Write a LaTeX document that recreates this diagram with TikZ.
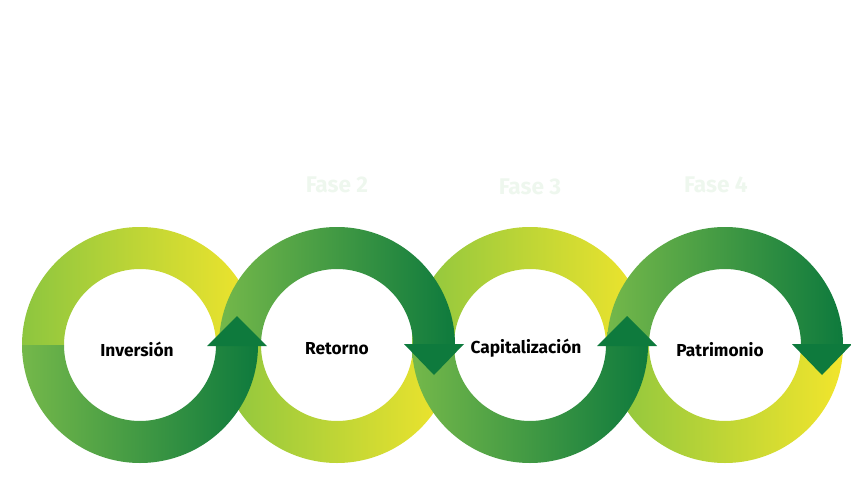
\documentclass[tikz,border=0pt]{standalone}
\usepackage{fontspec}
\setmainfont{Fira Sans}
\begin{document}
\begin{tikzpicture}[x=0.75pt,y=-0.75pt,
  lbl/.style={font=\fontsize{13}{15}\selectfont\bfseries, text=black},
  fase/.style={font=\fontsize{17}{20}\selectfont\bfseries, text=fasecol}]
\definecolor{fasecol}{HTML}{EEF7EE}
\definecolor{lg}{HTML}{8DC63F}
\definecolor{yl}{HTML}{F2E52C}
\definecolor{mg}{HTML}{74B84A}
\definecolor{dg}{HTML}{0E7A3D}
\useasboundingbox (0,0) rectangle (851,493);
\def\R{118}\def\r{76}
% light halves
\foreach \cx/\up in {140/1,337/0,530/1,725/0}{
  \ifnum\up=0
    \shade[left color=lg,right color=yl] (\cx-\R,345) arc[start angle=180,end angle=0,radius=\R] -- (\cx+\r,345) arc[start angle=0,end angle=180,radius=\r] -- cycle;
  \else
    \shade[left color=lg,right color=yl] (\cx-\R,345) arc[start angle=180,end angle=360,radius=\R] -- (\cx+\r,345) arc[start angle=360,end angle=180,radius=\r] -- cycle;
  \fi
}
% dark halves
\foreach \cx/\up in {140/1,337/0,530/1,725/0}{
  \ifnum\up=0
    \shade[left color=mg,right color=dg] (\cx-\R,345) arc[start angle=180,end angle=360,radius=\R] -- (\cx+\r,345) arc[start angle=360,end angle=180,radius=\r] -- cycle;
  \else
    \shade[left color=mg,right color=dg] (\cx-\R,345) arc[start angle=180,end angle=0,radius=\R] -- (\cx+\r,345) arc[start angle=0,end angle=180,radius=\r] -- cycle;
  \fi
}
% arrowheads
\foreach \cx/\up in {140/1,337/0,530/1,725/0}{
  \pgfmathsetmacro\m{\cx+97}
  \ifnum\up=0
    \fill[dg] (\m-30,344) -- (\m,375) -- (\m+30,344) -- cycle;
  \else
    \fill[dg] (\m-30,346) -- (\m,316) -- (\m+30,346) -- cycle;
  \fi
}
\node[lbl] (l1) at (137,349) {Inversión};
\node[lbl] (l2) at (337,349) {Retorno};
\node[lbl] (l3) at (526,348) {Capitalización};
\node[lbl] (l4) at (720,350) {Patrimonio};
\node[fase] (f2) at (337,185) {Fase 2};
\node[fase] (f3) at (530,187) {Fase 3};
\node[fase] (f4) at (716,185) {Fase 4};
\end{tikzpicture}
\end{document}
